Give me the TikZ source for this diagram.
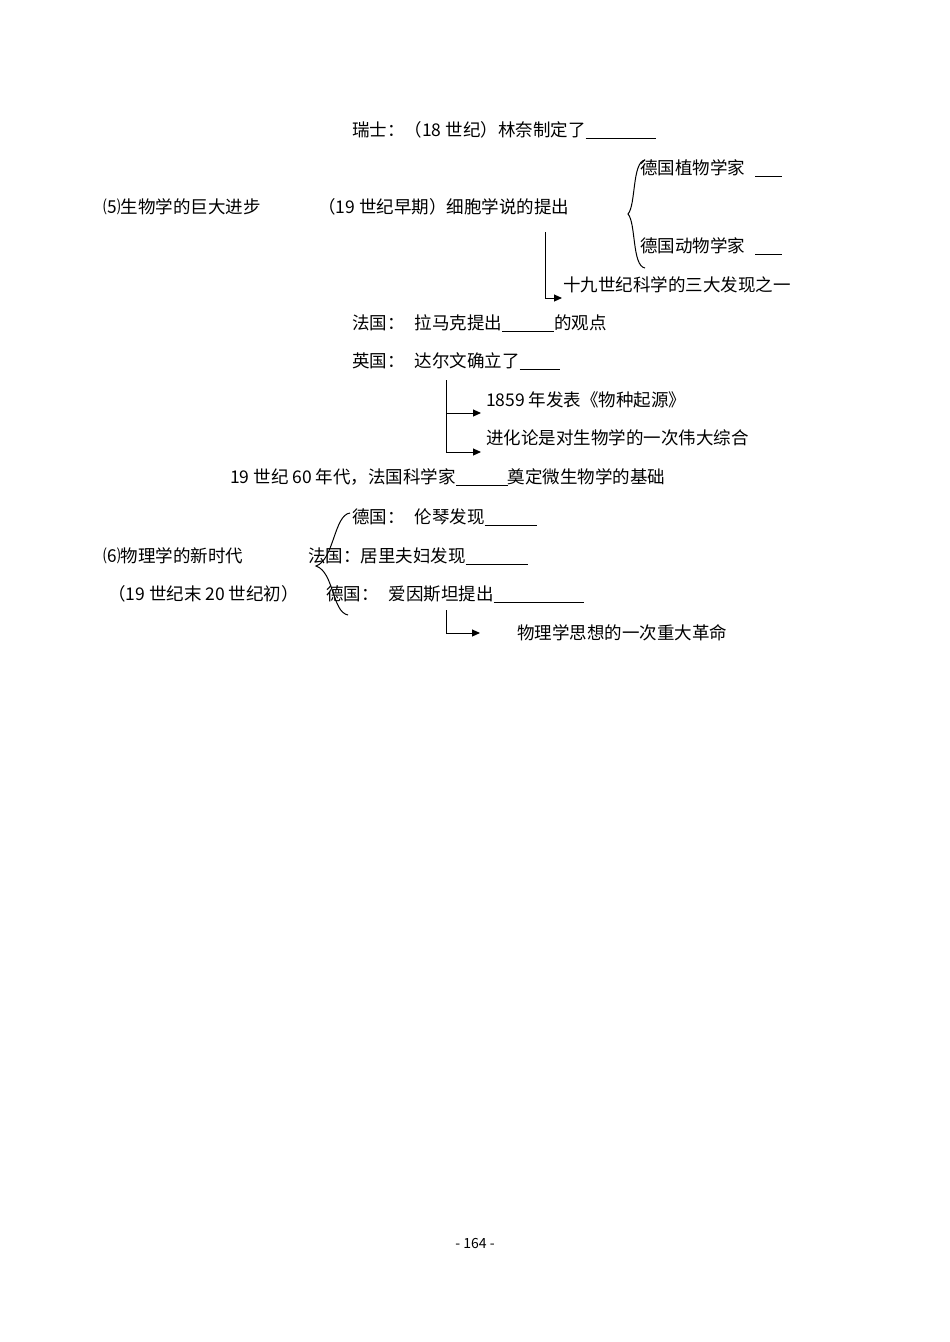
\documentclass[tikz,border=0pt]{standalone}
\usepackage{fontspec}
\setmainfont{Noto Sans CJK SC}
\usetikzlibrary{arrows.meta,decorations.pathreplacing}
\newcommand{\blk}[1]{\underline{\hspace{#1pt}}}
\begin{document}
\begin{tikzpicture}[x=1pt,y=-1pt,
  t/.style={anchor=west,inner sep=0pt,font=\fontsize{17.5}{20}\selectfont},
  ln/.style={line width=1pt},
  arr/.style={line width=1pt,-{Triangle[length=8pt,width=7pt]}}]
\useasboundingbox (0,0) rectangle (950,1342);
\node[t] (a1) at (352,130) {瑞士：（18 世纪）林奈制定了\blk{70}};
\node[t] (a2) at (103,207) {⑸生物学的巨大进步};
\node[t] (a3) at (318,207) {（19 世纪早期）细胞学说的提出};
\node[t] (a4) at (640,168) {德国植物学家\hspace{10pt}\blk{27}};
\node[t] (a5) at (640,246) {德国动物学家\hspace{10pt}\blk{27}};
\draw[ln] (645,160) .. controls (632,162) and (636,205) .. (628,214) .. controls (636,223) and (632,266) .. (645,268);
\coordinate (v1) at (545,232);
\coordinate (v1b) at (545,298);
\node[t] (a6) at (563,285) {十九世纪科学的三大发现之一};
\draw[ln] (v1) -- (v1b);
\draw[arr] (v1b) -- ++(17,0);
\node[t] (b1) at (352,323) {法国：\hspace{10pt}拉马克提出\blk{52}的观点};
\node[t] (b2) at (352,361) {英国：\hspace{10pt}达尔文确立了\blk{40}};
\coordinate (v2) at (446,380);
\coordinate (v2a) at (446,413);
\coordinate (v2b) at (446,452);
\draw[ln] (v2) -- (v2b);
\node[t] (b3) at (486,400) {1859 年发表《物种起源》};
\node[t] (b4) at (486,438) {进化论是对生物学的一次伟大综合};
\draw[arr] (v2a) -- ++(35,0);
\draw[arr] (v2b) -- ++(35,0);
\node[t] (b5) at (230,477) {19 世纪 60 年代，法国科学家\blk{52}奠定微生物学的基础};
\node[t] (c1) at (352,517) {德国：\hspace{10pt}伦琴发现\blk{52}};
\node[t] (c2) at (103,556) {⑹物理学的新时代};
\node[t] (c3) at (308,556) {法国：居里夫妇发现\blk{62}};
\node[t] (c4) at (108,594) {（19 世纪末 20 世纪初）};
\node[t] (c5) at (326,594) {德国：\hspace{10pt}爱因斯坦提出\blk{90}};
\draw[ln] (350,513) .. controls (334,515) and (334,560) .. (316,566) .. controls (334,572) and (332,612) .. (348,615);
\coordinate (v3) at (446,610);
\coordinate (v3b) at (446,633);
\draw[ln] (v3) -- (v3b);
\draw[arr] (v3b) -- ++(34,0);
\node[t] (c6) at (517,633) {物理学思想的一次重大革命};
\node[inner sep=0pt,font=\fontsize{14}{16}\selectfont] (pg) at (475,1243) {- 164 -};
\end{tikzpicture}
\end{document}
